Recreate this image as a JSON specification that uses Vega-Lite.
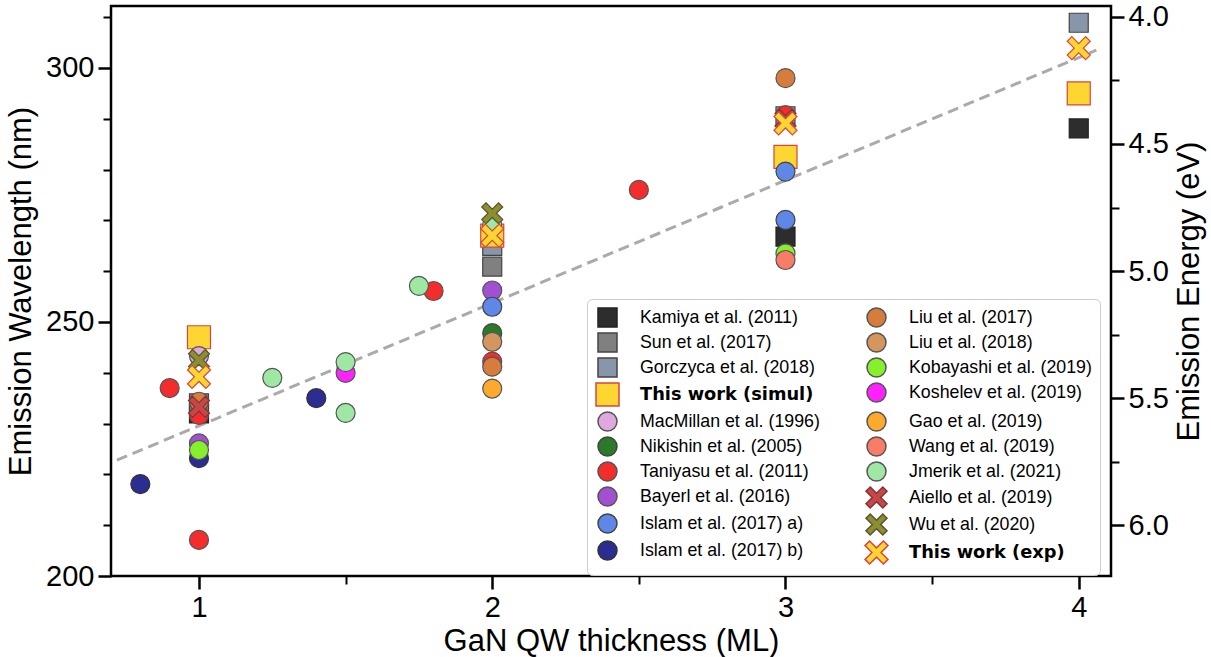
{
  "$schema": "https://vega.github.io/schema/vega-lite/v6.json",
  "width": 1000,
  "height": 570,
  "autosize": {"type": "none"},
  "padding": {"left": 111, "top": 6, "right": 100, "bottom": 81},
  "background": "white",
  "config": {
    "view": {"stroke": "black", "strokeWidth": 2.5},
    "axis": {
      "labelFont": "Liberation Sans",
      "labelFontSize": 29,
      "labelColor": "black",
      "titleFont": "Liberation Sans",
      "titleFontSize": 31,
      "titleFontWeight": "normal",
      "titleColor": "black",
      "tickColor": "black",
      "domain": false,
      "grid": false
    },
    "legend": {
      "title": null,
      "orient": "none",
      "legendX": 476,
      "legendY": 293,
      "columns": 2,
      "labelFont": {"expr": "indexof(datum.label, 'This work') >= 0 ? 'DejaVu Sans' : 'Liberation Sans'"},
      "labelFontWeight": {"expr": "indexof(datum.label, 'This work') >= 0 ? 'bold' : 'normal'"},
      "labelFontSize": 17.8,
      "labelColor": "black",
      "labelLimit": 400,
      "labelOffset": 20,
      "rowPadding": 0,
      "columnPadding": 42,
      "padding": 8,
      "strokeColor": "#cccccc",
      "fillColor": "rgba(255,255,255,0.85)",
      "cornerRadius": 5
    }
  },
  "datasets": {
    "points": [
      {"series": "Kamiya et al. (2011)", "thickness": 1, "wavelength": 232},
      {"series": "Kamiya et al. (2011)", "thickness": 3, "wavelength": 266.8},
      {"series": "Kamiya et al. (2011)", "thickness": 4, "wavelength": 288.1},
      {"series": "Sun et al. (2017)", "thickness": 1, "wavelength": 234},
      {"series": "Sun et al. (2017)", "thickness": 2, "wavelength": 260.9},
      {"series": "Gorczyca et al. (2018)", "thickness": 2, "wavelength": 265},
      {"series": "Gorczyca et al. (2018)", "thickness": 3, "wavelength": 290.5},
      {"series": "Gorczyca et al. (2018)", "thickness": 4, "wavelength": 308.9},
      {"series": "This work (simul)", "thickness": 1, "wavelength": 247},
      {"series": "This work (simul)", "thickness": 2, "wavelength": 267},
      {"series": "This work (simul)", "thickness": 3, "wavelength": 282.5},
      {"series": "This work (simul)", "thickness": 4, "wavelength": 295},
      {"series": "MacMillan et al. (1996)", "thickness": 1, "wavelength": 243.3},
      {"series": "Nikishin et al. (2005)", "thickness": 2, "wavelength": 247.8},
      {"series": "Taniyasu et al. (2011)", "thickness": 0.9, "wavelength": 237},
      {"series": "Taniyasu et al. (2011)", "thickness": 1, "wavelength": 207.1},
      {"series": "Taniyasu et al. (2011)", "thickness": 1, "wavelength": 231.7},
      {"series": "Taniyasu et al. (2011)", "thickness": 1.8, "wavelength": 256.1},
      {"series": "Taniyasu et al. (2011)", "thickness": 2, "wavelength": 242.2},
      {"series": "Taniyasu et al. (2011)", "thickness": 2.5, "wavelength": 276},
      {"series": "Taniyasu et al. (2011)", "thickness": 3, "wavelength": 290.7},
      {"series": "Bayerl et al. (2016)", "thickness": 1, "wavelength": 226.1},
      {"series": "Bayerl et al. (2016)", "thickness": 2, "wavelength": 256.2},
      {"series": "Islam et al. (2017) a)", "thickness": 2, "wavelength": 253},
      {"series": "Islam et al. (2017) a)", "thickness": 3, "wavelength": 279.6},
      {"series": "Islam et al. (2017) a)", "thickness": 3, "wavelength": 270.1},
      {"series": "Islam et al. (2017) b)", "thickness": 0.8, "wavelength": 218.1},
      {"series": "Islam et al. (2017) b)", "thickness": 1, "wavelength": 223.2},
      {"series": "Islam et al. (2017) b)", "thickness": 1.4, "wavelength": 235},
      {"series": "Liu et al. (2017)", "thickness": 1, "wavelength": 234.3},
      {"series": "Liu et al. (2017)", "thickness": 2, "wavelength": 241.2},
      {"series": "Liu et al. (2017)", "thickness": 3, "wavelength": 298},
      {"series": "Liu et al. (2018)", "thickness": 2, "wavelength": 246.1},
      {"series": "Kobayashi et al. (2019)", "thickness": 1, "wavelength": 224.8},
      {"series": "Kobayashi et al. (2019)", "thickness": 3, "wavelength": 263.5},
      {"series": "Koshelev  et al. (2019)", "thickness": 1.5, "wavelength": 240},
      {"series": "Gao et al. (2019)", "thickness": 2, "wavelength": 236.9},
      {"series": "Wang et al. (2019)", "thickness": 3, "wavelength": 262.2},
      {"series": "Jmerik et al. (2021)", "thickness": 1.25, "wavelength": 239},
      {"series": "Jmerik et al. (2021)", "thickness": 1.5, "wavelength": 242.1},
      {"series": "Jmerik et al. (2021)", "thickness": 1.5, "wavelength": 232.1},
      {"series": "Jmerik et al. (2021)", "thickness": 1.75, "wavelength": 257.1},
      {"series": "Jmerik et al. (2021)", "thickness": 2, "wavelength": 269.1},
      {"series": "Aiello et al. (2019)", "thickness": 1, "wavelength": 233.3},
      {"series": "Aiello et al. (2019)", "thickness": 3, "wavelength": 289.8},
      {"series": "Wu et al. (2020)", "thickness": 1, "wavelength": 242.5},
      {"series": "Wu et al. (2020)", "thickness": 2, "wavelength": 271.4},
      {"series": "This work (exp)", "thickness": 1, "wavelength": 239.2},
      {"series": "This work (exp)", "thickness": 2, "wavelength": 267},
      {"series": "This work (exp)", "thickness": 3, "wavelength": 289.1},
      {"series": "This work (exp)", "thickness": 4, "wavelength": 303.9}
    ],
    "trend": [
      {"thickness": 0.72, "wavelength": 222.8},
      {"thickness": 4.06, "wavelength": 303.5}
    ],
    "energy": [
      {"energy": 4.0},
      {"energy": 6.0}
    ]
  },
  "resolve": {"scale": {"y": "independent"}, "axis": {"y": "independent"}},
  "layer": [
    {
      "layer": [
        {
          "data": {"name": "trend"},
          "mark": {"type": "line", "color": "#aaaaaa", "strokeWidth": 3, "strokeDash": [11, 6]},
          "encoding": {
            "x": {"field": "thickness", "type": "quantitative", "scale": {"domain": [0.7, 4.11], "nice": false, "zero": false}},
            "y": {"field": "wavelength", "type": "quantitative", "scale": {"domain": [200, 312.2], "nice": false, "zero": false}}
          }
        },
        {
          "data": {"name": "points"},
          "mark": {"type": "point", "filled": true, "opacity": 1, "strokeWidth": 1.2},
          "encoding": {
            "x": {
              "field": "thickness", "type": "quantitative",
              "scale": {"domain": [0.7, 4.11], "nice": false, "zero": false},
              "axis": {
                "title": "GaN QW thickness (ML)",
                "values": [1, 1.5, 2, 2.5, 3, 3.5, 4],
                "labelExpr": "datum.value % 1 === 0 ? format(datum.value, 'd') : ''",
                "tickSize": {"condition": {"test": "datum.value % 1 === 0", "value": 13}, "value": 8},
                "tickWidth": {"condition": {"test": "datum.value % 1 === 0", "value": 2.5}, "value": 2},
                "labelPadding": 4,
                "titlePadding": 4
              }
            },
            "y": {
              "field": "wavelength", "type": "quantitative",
              "scale": {"domain": [200, 312.2], "nice": false, "zero": false},
              "axis": {
                "orient": "left",
                "title": "Emission Wavelength (nm)",
                "values": [200, 210, 220, 230, 240, 250, 260, 270, 280, 290, 300, 310],
                "labelExpr": "datum.value % 50 === 0 ? datum.label : ''",
                "tickSize": {"condition": {"test": "datum.value % 50 === 0", "value": 13}, "value": 8},
                "tickWidth": {"condition": {"test": "datum.value % 50 === 0", "value": 2.5}, "value": 2},
                "labelPadding": 4,
                "titlePadding": 8
              }
            },
            "fill": {
              "field": "series", "type": "nominal",
              "scale": {
                "domain": ["Kamiya et al. (2011)", "Sun et al. (2017)", "Gorczyca et al. (2018)", "This work (simul)", "MacMillan et al. (1996)", "Nikishin et al. (2005)", "Taniyasu et al. (2011)", "Bayerl et al. (2016)", "Islam et al. (2017) a)", "Islam et al. (2017) b)", "Liu et al. (2017)", "Liu et al. (2018)", "Kobayashi et al. (2019)", "Koshelev  et al. (2019)", "Gao et al. (2019)", "Wang et al. (2019)", "Jmerik et al. (2021)", "Aiello et al. (2019)", "Wu et al. (2020)", "This work (exp)"],
                "range": ["#2d2d2d", "#808080", "#8796a8", "#fdd631", "#dfa8df", "#2a7a2a", "#f42c2c", "#a34fd1", "#5f87e8", "#2b2d92", "#d67d3e", "#d4955f", "#86f02b", "#ff22ff", "#fbaa2d", "#f87c66", "#9fe8a4", "#c54848", "#8e8e2e", "#fdd631"]
              }
            },
            "stroke": {
              "field": "series", "type": "nominal",
              "scale": {
                "domain": ["Kamiya et al. (2011)", "Sun et al. (2017)", "Gorczyca et al. (2018)", "This work (simul)", "MacMillan et al. (1996)", "Nikishin et al. (2005)", "Taniyasu et al. (2011)", "Bayerl et al. (2016)", "Islam et al. (2017) a)", "Islam et al. (2017) b)", "Liu et al. (2017)", "Liu et al. (2018)", "Kobayashi et al. (2019)", "Koshelev  et al. (2019)", "Gao et al. (2019)", "Wang et al. (2019)", "Jmerik et al. (2021)", "Aiello et al. (2019)", "Wu et al. (2020)", "This work (exp)"],
                "range": ["#222222", "#444444", "#444444", "#d64541", "#555555", "#444444", "#555555", "#555555", "#444444", "#333333", "#555555", "#555555", "#555555", "#555555", "#555555", "#555555", "#555555", "#8a3030", "#555533", "#d64541"]
              }
            },
            "shape": {
              "field": "series", "type": "nominal",
              "scale": {
                "domain": ["Kamiya et al. (2011)", "Sun et al. (2017)", "Gorczyca et al. (2018)", "This work (simul)", "MacMillan et al. (1996)", "Nikishin et al. (2005)", "Taniyasu et al. (2011)", "Bayerl et al. (2016)", "Islam et al. (2017) a)", "Islam et al. (2017) b)", "Liu et al. (2017)", "Liu et al. (2018)", "Kobayashi et al. (2019)", "Koshelev  et al. (2019)", "Gao et al. (2019)", "Wang et al. (2019)", "Jmerik et al. (2021)", "Aiello et al. (2019)", "Wu et al. (2020)", "This work (exp)"],
                "range": ["square", "square", "square", "square", "circle", "circle", "circle", "circle", "circle", "circle", "circle", "circle", "circle", "circle", "circle", "circle", "circle", "M-0.6,-1L0,-0.4L0.6,-1L1,-0.6L0.4,0L1,0.6L0.6,1L0,0.4L-0.6,1L-1,0.6L-0.4,0L-1,-0.6Z", "M-0.6,-1L0,-0.4L0.6,-1L1,-0.6L0.4,0L1,0.6L0.6,1L0,0.4L-0.6,1L-1,0.6L-0.4,0L-1,-0.6Z", "M-0.6,-1L0,-0.4L0.6,-1L1,-0.6L0.4,0L1,0.6L0.6,1L0,0.4L-0.6,1L-1,0.6L-0.4,0L-1,-0.6Z"]
              }
            },
            "size": {
              "field": "series", "type": "nominal",
              "scale": {
                "type": "ordinal",
                "domain": ["Kamiya et al. (2011)", "Sun et al. (2017)", "Gorczyca et al. (2018)", "This work (simul)", "MacMillan et al. (1996)", "Nikishin et al. (2005)", "Taniyasu et al. (2011)", "Bayerl et al. (2016)", "Islam et al. (2017) a)", "Islam et al. (2017) b)", "Liu et al. (2017)", "Liu et al. (2018)", "Kobayashi et al. (2019)", "Koshelev  et al. (2019)", "Gao et al. (2019)", "Wang et al. (2019)", "Jmerik et al. (2021)", "Aiello et al. (2019)", "Wu et al. (2020)", "This work (exp)"],
                "range": [361, 361, 361, 529, 361, 361, 361, 361, 361, 361, 361, 361, 361, 361, 361, 361, 361, 441, 441, 529]
              }
            }
          }
        }
      ]
    },
    {
      "data": {"name": "energy"},
      "mark": {"type": "point", "opacity": 0},
      "encoding": {
        "y": {
          "field": "energy", "type": "quantitative",
          "scale": {"domain": [3.957, 6.2], "reverse": true, "nice": false, "zero": false},
          "axis": {
            "orient": "right",
            "title": "Emission Energy (eV)",
            "titleAngle": 270,
            "titleBaseline": "top",
            "values": [4.0, 4.25, 4.5, 4.75, 5.0, 5.25, 5.5, 5.75, 6.0],
            "labelExpr": "datum.value % 0.5 === 0 ? format(datum.value, '.1f') : ''",
            "tickSize": {"condition": {"test": "datum.value % 0.5 === 0", "value": 13}, "value": 8},
            "tickWidth": {"condition": {"test": "datum.value % 0.5 === 0", "value": 2.5}, "value": 2},
            "labelPadding": 4,
            "titlePadding": 6
          }
        }
      }
    }
  ]
}
